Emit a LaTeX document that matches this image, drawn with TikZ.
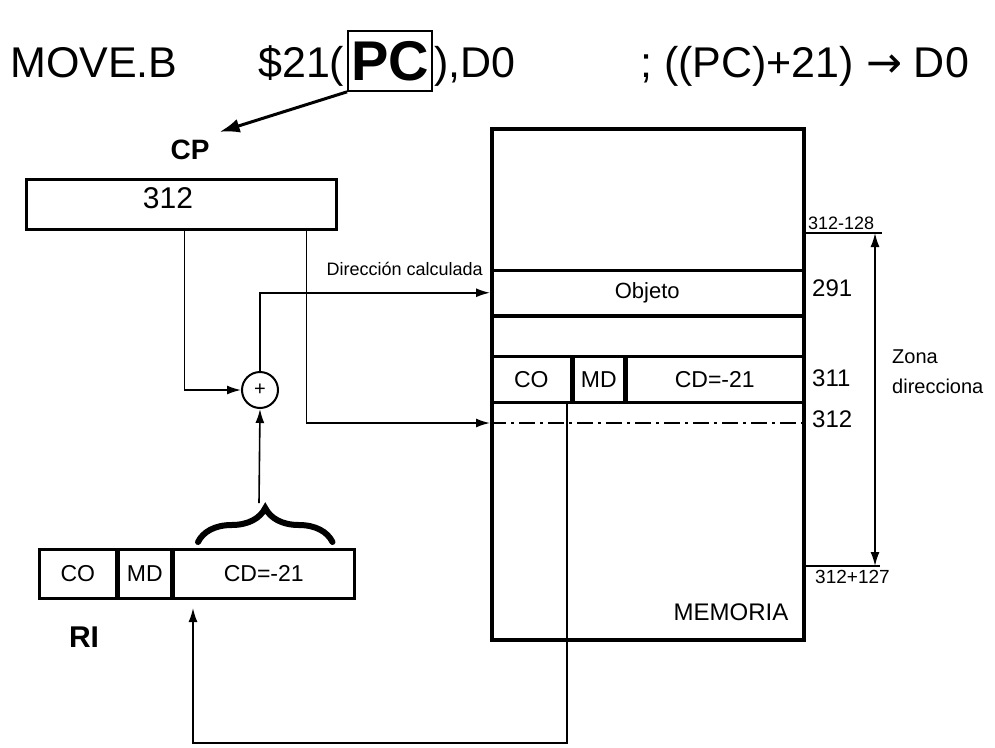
\documentclass[tikz,border=0pt]{standalone}
\usepackage{fontspec}
\setmainfont{Liberation Sans}
\newfontfamily\symbfont{DejaVu Sans}
\usetikzlibrary{arrows.meta,positioning,calc,decorations.pathreplacing}

\begin{document}
\begin{tikzpicture}[
    x=1pt, y=-1pt,
    >={Latex[length=14pt,width=9pt]},
    thinline/.style={line width=1.6pt},
    regbox/.style={draw, line width=3pt, anchor=north west, inner sep=0pt},
    cell/.style={draw, line width=2.5pt, anchor=north west, inner sep=0pt, font=\fontsize{23}{23}\selectfont},
    lbl/.style={font=\fontsize{#1}{#1}\selectfont, inner sep=0pt},
    blbl/.style={font=\bfseries\fontsize{#1}{#1}\selectfont, inner sep=0pt}
  ]
  \fill[white] (0,0) rectangle (995,747);
  \useasboundingbox (0,0) rectangle (995,747);

  % instruccion
  \node[lbl=43, anchor=base west] (mnem) at (10,77) {MOVE.B};
  \node[lbl=43, anchor=base west] (disp) at (258,77) {\$21(};
  \node[draw, line width=2pt, inner xsep=3pt, inner ysep=10pt,
        font=\bfseries\fontsize{56}{56}\selectfont] (pc) at (390,61) {PC};
  \node[lbl=43, anchor=base west] (dst) at (434,77) {),D0};
  \node[lbl=43, anchor=base west] (coment) at (640,77) {; ((PC)+21) {\symbfont →} D0};

  % contador de programa
  \node[blbl=28] (cplbl) at (190,150) {CP};
  \node[regbox, minimum width=310pt, minimum height=50pt] (cp) at (25,178) {};
  \node[lbl=30] (cpval) at (168,198) {312};
  \draw[->, line width=3pt, >={Latex[length=20pt,width=14pt]}]
    (pc.south west) -- ([shift={(10pt,8pt)}]cplbl.north east);

  % memoria
  \node[regbox, line width=3.5pt, minimum width=312pt, minimum height=511pt] (mem) at (490,127) {};
  \node[cell, minimum width=312pt, minimum height=45pt, font=\fontsize{22}{22}\selectfont] (obj) at (490,269) {Objeto};
  \node[cell, minimum width=312pt, minimum height=40pt] (gap) at (490,315) {};
  \node[cell, minimum width=80pt, minimum height=46pt] (mco) at (490,355) {CO};
  \node[cell, minimum width=50pt, minimum height=46pt] (mmd) at (mco.north east) {MD};
  \node[cell, minimum width=177pt, minimum height=46pt] (mcd) at (mmd.north east) {CD=-21};
  \coordinate (d312) at (490,423);
  \draw[thinline, dash pattern=on 16pt off 5pt on 3pt off 5pt] (d312) -- (d312 -| mem.east);
  \node[lbl=24, anchor=south east] (memlbl) at ([shift={(-17pt,21pt)}]mem.south east) {MEMORIA};

  \node[lbl=24, anchor=west] (a291) at (812,288) {291};
  \node[lbl=24, anchor=west] (a311) at (812,378) {311};
  \node[lbl=24, anchor=west] (a312) at (812,419) {312};

  % zona direccionable
  \coordinate (ztop) at (875,233);
  \coordinate (zbot) at (875,566);
  \draw[thinline] (mem.east |- ztop) -- ([xshift=7pt]ztop);
  \draw[thinline] (mem.east |- zbot) -- ([xshift=5pt]zbot);
  \draw[thinline, <->] (ztop) -- (zbot);
  \node[lbl=18, anchor=south west] (zlo) at (808,230) {312-128};
  \node[lbl=19, anchor=north west] (zhi) at (815,570) {312+127};
  \node[font=\fontsize{20}{30}\selectfont, inner sep=0pt, anchor=west, align=left] (zona) at (892,372) {Zona\\direcciona};

  % registro de instruccion
  \node[cell, minimum width=77pt, minimum height=49pt] (rco) at (38,548) {CO};
  \node[cell, minimum width=52pt, minimum height=49pt] (rmd) at (rco.north east) {MD};
  \node[cell, minimum width=181pt, minimum height=49pt] (rcd) at (rmd.north east) {CD=-21};
  \node[blbl=30] (rilbl) at (84,637) {RI};
  \draw[decorate, decoration={brace, amplitude=34pt}, line width=6pt, line cap=round]
    ([shift={(26pt,6pt)}]rcd.north west) -- ([shift={(-23pt,6pt)}]rcd.north east);

  % sumador
  \node[circle, draw, line width=2pt, minimum size=36pt, inner sep=0pt,
        font=\fontsize{20}{20}\selectfont] (sum) at (260,390) {+};
  \coordinate (btip) at (259,503);
  \draw[->, thinline] (btip) -- (sum.south);
  \draw[->, thinline] ([xshift=3pt]cp.south) |- (sum.west);
  \draw[->, thinline] ([xshift=125pt]cp.south) |- (d312);
  \draw[->, thinline] (sum.north) |- (obj.west);
  \node[lbl=18, anchor=base east] (dirlbl) at ([shift={(-7pt,17pt)}]obj.west) {Dirección calculada};

  % realimentacion
  \coordinate (fbot) at (567,743);
  \coordinate (rin) at (193,608);
  \draw[->, thinline] (mco.south east -| fbot) -- (fbot) -| (rin);
\end{tikzpicture}
\end{document}
